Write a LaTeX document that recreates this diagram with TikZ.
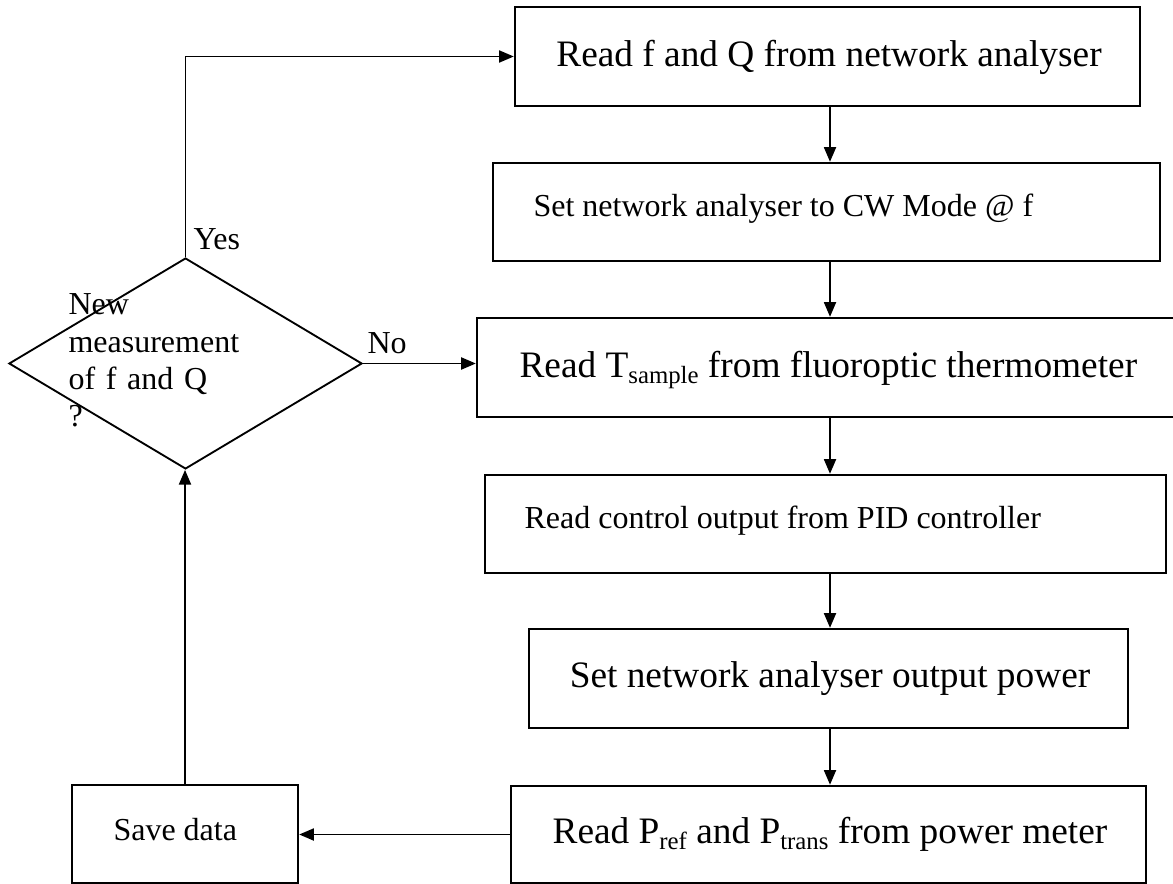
\documentclass[tikz,border=0pt]{standalone}
\usepackage{fontspec}
\setmainfont{Liberation Serif}
\usetikzlibrary{shapes.geometric,arrows.meta}
\newcommand{\mysub}[1]{\raisebox{-0.18em}{\fontsize{9.3}{10}\selectfont #1}}
\begin{document}
\begin{tikzpicture}[x=0.375pt,y=-0.375pt,
  procbox/.style={draw,line width=0.9pt,inner sep=0pt},
  decis/.style={draw,diamond,line width=0.7pt,inner sep=0pt,minimum width=132.4pt,minimum height=79.1pt},
  conn/.style={line width=0.7pt,-{Triangle[length=5.5pt,width=4.5pt]}},
  txtS/.style={anchor=base west,inner sep=0pt,font=\fontsize{12}{13.9}\selectfont},
  txtB/.style={anchor=base,inner sep=0pt,font=\fontsize{14}{16}\selectfont},
  txtBL/.style={anchor=base west,inner sep=0pt,font=\fontsize{14}{16}\selectfont}]
\useasboundingbox (0,0) rectangle (1173,884);
\clip (0,0) rectangle (1173,884);
% boxes
\node[procbox,minimum width=234.4pt,minimum height=37.1pt] (b1) at (827.5,56.5) {};
\node[procbox,minimum width=250.1pt,minimum height=36.75pt] (b2) at (826.5,212) {};
\node[procbox,minimum width=262.1pt,minimum height=37.1pt] (b3) at (826.5,367.5) {};
\node[procbox,minimum width=255.4pt,minimum height=36.75pt] (b4) at (825.5,524) {};
\node[procbox,minimum width=224.6pt,minimum height=37.1pt] (b5) at (828.5,678.5) {};
\node[procbox,minimum width=238.1pt,minimum height=36.4pt] (b6) at (828.5,834.5) {};
\node[procbox,minimum width=84.75pt,minimum height=36.75pt] (save) at (185,834) {};
\node[decis] (dia) at (185.5,363.5) {};
% texts
\node[txtB] (t1) at (829,67) {Read f and Q from network analyser};
\node[txtS] (t2) at (533,217) {Set network analyser to CW Mode @ f};
\node[txtBL] (t3) at (519,377) {Read T\mysub{sample} from fluoroptic thermometer};
\node[txtS] (t4) at (524,528) {Read control output from PID controller};
\node[txtB] (t5) at (830,687) {Set network analyser output power};
\node[txtB] (t6) at (830,843) {Read P\mysub{ref} and P\mysub{trans} from power meter};
\node[txtS] (t7) at (113,840) {Save data};
\node[txtS,text width=80pt,align=left] (t8) at (68,315) {New\\measurement\\of f and Q\\?};
\node[txtS] (yes) at (193,250) {Yes};
\node[txtS] (no) at (367,353) {No};
% connectors
\coordinate (col) at (830,0);
\draw[conn] (b1.south -| col) -- (b2.north -| col);
\draw[conn] (b2.south -| col) -- (b3.north -| col);
\draw[conn] (b3.south -| col) -- (b4.north -| col);
\draw[conn] (b4.south -| col) -- (b5.north -| col);
\draw[conn] (b5.south -| col) -- (b6.north -| col);
\draw[conn] (b6.west) -- (b6.west -| save.east);
\draw[conn] (save.north) -- (save.north |- dia.south);
\draw[conn] (dia.north) |- (b1.west);
\draw[conn] (dia.east) -- (dia.east -| b3.west);
\end{tikzpicture}
\end{document}
